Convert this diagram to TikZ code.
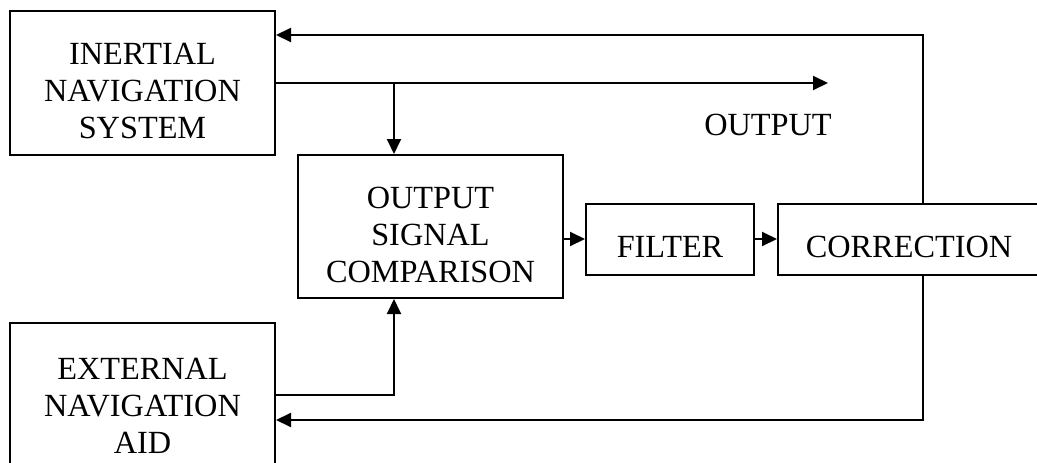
\documentclass[tikz,border=0pt]{standalone}
\usepackage{fontspec}
\setmainfont{Liberation Serif}
\usetikzlibrary{arrows.meta,calc}
\begin{document}
\begin{tikzpicture}[x=1pt,y=-1pt,
  box/.style={draw,line width=2pt,inner sep=0pt},
  txt/.style={align=center,inner sep=0pt,font=\fontsize{32.3}{37}\selectfont},
  arr/.style={line width=2pt,-{Triangle[length=15pt,width=14pt]}}]
\useasboundingbox (0,0) rectangle (1037,463);
\clip (0,0) rectangle (1037,463);
\fill[white] (0,0) rectangle (1037,463);
% boxes
\node[box,minimum width=265pt,minimum height=144pt] (ins) at (142.5,83) {};
\node[box,minimum width=265pt,minimum height=143pt] (comp) at (430.5,226.5) {};
\node[box,minimum width=168pt,minimum height=71pt] (filt) at (670,239) {};
\node[box,minimum width=262pt,minimum height=71pt] (corr) at (909,239) {};
\node[box,minimum width=265pt,minimum height=150pt] (ext) at (142.5,398) {};
% texts
\node[txt] (inst) at ([yshift=-8pt]ins.center) {INERTIAL\\NAVIGATION\\SYSTEM};
\node[txt] (compt) at ([yshift=-8pt]comp.center) {OUTPUT\\SIGNAL\\COMPARISON};
\node[txt] (filtt) at ([yshift=-8pt]filt.center) {FILTER};
\node[txt] (corrt) at ([yshift=-8pt]corr.center) {CORRECTION};
\node[txt] (extt) at (142.5,406) {EXTERNAL\\NAVIGATION\\AID};
\node[txt] (outl) at (768,125) {OUTPUT};
% coordinates
\coordinate (fb) at (923,0);
\coordinate (topy) at (0,35);
\coordinate (outy) at (0,83);
\coordinate (outend) at (828,83);
\coordinate (tap) at (394,0);
\coordinate (exty) at (0,395);
\coordinate (boty) at (0,420);
% connectors
\draw[arr] (ins.east |- outy) -- (outend);
\draw[arr] (tap |- outy) -- (comp.north -| tap);
\draw[arr] (ext.east |- exty) -| (comp.south -| tap);
\draw[arr] (comp.east |- filt.west) -- (filt.west);
\draw[arr] (filt.east) -- (corr.west);
\draw[arr] (corr.north -| fb) |- (ins.east |- topy);
\draw[arr] (corr.south -| fb) |- (ext.east |- boty);
\end{tikzpicture}
\end{document}
